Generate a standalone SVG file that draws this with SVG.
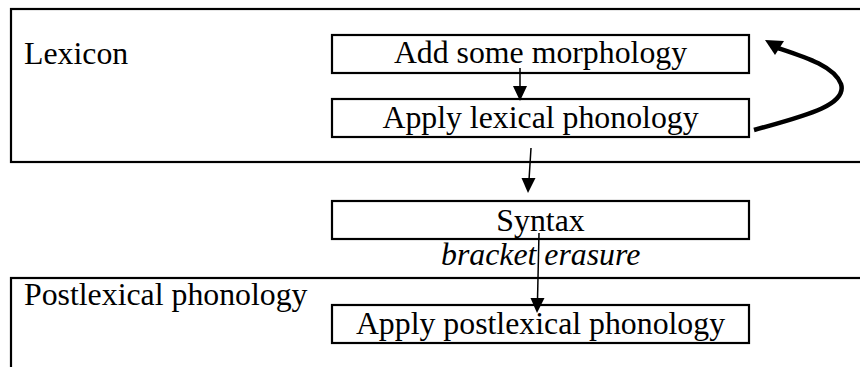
<svg xmlns="http://www.w3.org/2000/svg" width="860" height="367" viewBox="0 0 860 367">
<style>
.frame{fill:none;stroke:#000;stroke-width:2.2}
.box{fill:none;stroke:#000;stroke-width:2.2}
.t{font-family:"Liberation Serif","Times New Roman",serif;font-size:31.8px;fill:#000}
.c{text-anchor:middle}
.i{font-style:italic}
.ln{stroke:#000;stroke-width:1.5;fill:none}
.hd{fill:#000}
</style>
<rect width="860" height="367" fill="#fff"/>
<g id="lexicon">
<rect class="frame" x="11" y="9" width="880" height="153"/>
<text class="t" x="24" y="64">Lexicon</text>
</g>
<g id="postlexical">
<rect class="frame" x="11" y="278" width="880" height="120"/>
<text class="t" x="24" y="305">Postlexical phonology</text>
</g>
<g id="morphology">
<rect class="box" x="332" y="35" width="417" height="38"/>
<text class="t c" x="540.5" y="63">Add some morphology</text>
</g>
<g id="lexphon">
<rect class="box" x="332" y="99" width="417" height="38"/>
<text class="t c" x="540.5" y="128">Apply lexical phonology</text>
</g>
<g id="syntax">
<rect class="box" x="332" y="201" width="417" height="38"/>
<text class="t c" x="540.5" y="231">Syntax</text>
</g>
<g id="postphon">
<rect class="box" x="332" y="305" width="417" height="38"/>
<text class="t c" x="540.5" y="334">Apply postlexical phonology</text>
</g>
<g id="label">
<text class="t i" x="441" y="265">bracket erasure</text>
</g>
<g id="connectors">
<line class="ln" x1="520" y1="68" x2="520" y2="88"/>
<polygon class="hd" points="513,86 527,86 520,101"/>
<line class="ln" x1="531" y1="148" x2="529" y2="180"/>
<polygon class="hd" points="521.5,178 535.5,178 528,193"/>
<line class="ln" x1="539" y1="233" x2="537.5" y2="300"/>
<polygon class="hd" points="530.5,298 544.5,298 537,313"/>
<path d="M754,130 C800,117 848,106 841,84 C834,66 805,57 778,48" fill="none" stroke="#000" stroke-width="4.5"/>
<polygon class="hd" points="765,40 784,41 775,55"/>
</g>
</svg>
